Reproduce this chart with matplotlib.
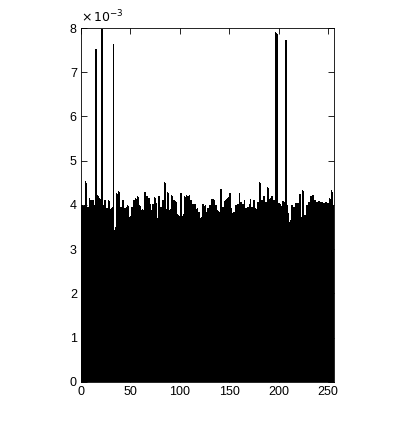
import numpy as np
import matplotlib
matplotlib.use('Agg')
import matplotlib.pyplot as plt

# normalised histogram of grey levels 0..255 (values in units of 1e-3)
levels = np.arange(256)
hist_vals = [
    # 0-63
    4.0, 4.0, 3.98, 4.0, 4.55, 4.5, 3.95, 3.96, 4.15, 4.12, 4.1, 4.1, 4.1, 4.0, 7.53, 7.53,
    4.22, 4.2, 4.15, 4.14, 7.98, 7.98, 4.0, 4.1, 4.12, 3.92, 3.92, 4.1, 4.08, 3.9, 3.92, 3.95,
    7.64, 3.43, 3.5, 4.28, 4.25, 4.32, 4.3, 3.95, 3.96, 4.1, 4.12, 3.9, 3.92, 3.94, 3.95, 4.0,
    3.98, 3.72, 3.75, 3.95, 3.96, 4.12, 4.1, 4.16, 4.14, 4.2, 4.18, 4.0, 3.98, 3.88, 3.9, 3.88,
    # 64-127
    4.3, 4.3, 4.2, 4.2, 4.15, 4.15, 4.03, 3.88, 4.03, 4.03, 4.18, 4.16, 4.05, 3.7, 4.2, 4.2,
    3.95, 3.96, 4.1, 4.1, 4.52, 4.5, 3.9, 4.3, 4.28, 3.88, 3.9, 4.22, 4.2, 4.12, 4.1, 4.08,
    4.06, 3.8, 3.78, 3.76, 4.28, 4.26, 3.76, 3.8, 4.2, 4.18, 4.22, 4.2, 4.2, 4.22, 4.1, 4.1,
    4.03, 4.03, 4.02, 4.03, 3.9, 3.92, 3.84, 3.85, 3.7, 3.72, 4.03, 4.02, 3.98, 4.0, 3.85, 3.86,
    # 128-191
    3.92, 3.92, 4.0, 4.0, 4.14, 4.14, 4.13, 4.12, 4.0, 4.0, 3.88, 3.86, 3.85, 4.37, 4.37, 3.95,
    3.96, 4.09, 4.1, 4.14, 4.15, 4.18, 4.28, 4.26, 3.92, 3.82, 3.84, 3.83, 4.0, 4.0, 4.03, 4.02,
    4.28, 4.06, 4.06, 4.03, 4.03, 4.1, 3.92, 3.94, 3.96, 3.96, 4.03, 4.14, 3.96, 3.95, 4.1, 4.1,
    3.92, 3.9, 4.06, 4.06, 4.52, 4.5, 4.1, 4.1, 4.2, 4.2, 4.06, 4.06, 4.4, 4.38, 4.14, 4.16,
    # 192-255
    4.19, 4.19, 4.1, 4.11, 7.92, 7.9, 7.86, 4.04, 4.04, 4.02, 3.98, 4.08, 4.09, 4.07, 7.73, 7.73,
    4.0, 3.81, 3.62, 3.62, 3.65, 4.0, 4.0, 3.96, 3.96, 4.04, 4.04, 4.04, 4.04, 4.24, 4.24, 3.73,
    4.34, 4.32, 3.77, 3.77, 4.0, 4.0, 4.07, 4.07, 4.19, 4.19, 4.22, 4.22, 4.11, 4.11, 4.07, 4.07,
    4.08, 4.08, 4.07, 4.07, 4.06, 4.04, 4.04, 4.07, 4.06, 4.04, 4.04, 4.15, 4.14, 4.34, 4.3, 4.0,
]
xticks = [0, 50, 100, 150, 200, 250]
yticks = [0, 1, 2, 3, 4, 5, 6, 7, 8]

plt.rcParams['font.family'] = ['Liberation Sans', 'DejaVu Sans']
plt.rcParams['font.size'] = 9

fig = plt.figure(figsize=(4.14, 4.32), dpi=100)
ax = fig.add_axes([0.1957, 0.1164, 0.611, 0.8186])

ax.bar(levels + 0.5, hist_vals, width=1.0, color='black', edgecolor='black',
       linewidth=0, antialiased=False)

ax.set_xlim(0, 256)
ax.set_ylim(0, 8)
ax.set_xticks(xticks)
ax.set_yticks(yticks)
ax.tick_params(direction='in', top=True, right=True, length=4, width=0.6, pad=3)
for s in ax.spines.values():
    s.set_linewidth(0.6)

ax.text(0, 1.008, r'$\times\,10^{-3}$', transform=ax.transAxes,
        ha='left', va='bottom', fontsize=9)

fig.savefig('out.png', dpi=100)
